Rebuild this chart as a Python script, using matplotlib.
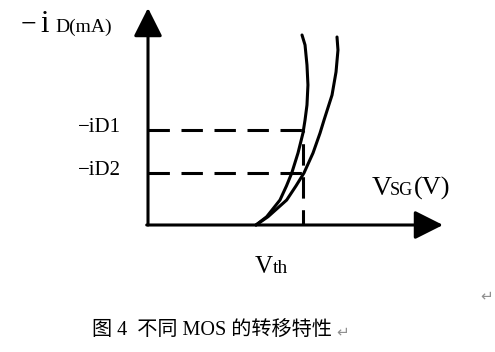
import matplotlib
matplotlib.use("Agg")
import matplotlib.pyplot as plt

plt.rcParams['font.family'] = ['Liberation Serif', 'Noto Sans CJK SC', 'DejaVu Sans']

# schematic transfer curves, -iD vs VSG (arbitrary units, Vth = 1)
vth = 1.0
id1 = 1.0
id2 = 0.55
v_probe = 1.435

vsg_a = [1.0, 1.099, 1.222, 1.282, 1.331, 1.389, 1.435, 1.454, 1.472, 1.481, 1.472, 1.454, 1.426]
id_a = [0.0, 0.087, 0.263, 0.411, 0.547, 0.758, 0.968, 1.105, 1.263, 1.474, 1.684, 1.895, 2.0]
vsg_b = [1.0, 1.111, 1.284, 1.370, 1.444, 1.528, 1.593, 1.630, 1.704, 1.741, 1.759, 1.750]
id_b = [0.0, 0.087, 0.263, 0.411, 0.547, 0.758, 0.968, 1.105, 1.368, 1.611, 1.842, 1.979]

W, H = 495, 352
SX, SY = 108, 95      # pixels per unit
OX, OY = 148, 225     # origin in pixels

fig = plt.figure(figsize=(W / 100, H / 100), dpi=100)
ax = fig.add_axes([0, 0, 1, 1])
ax.set_xlim(-OX / SX, (W - OX) / SX)
ax.set_ylim(-(H - OY) / SY, OY / SY)
ax.axis('off')

lw = 2.2
arrow = dict(arrowstyle='-|>,head_length=1.75,head_width=0.88', mutation_scale=10,
             lw=lw, color='black', shrinkA=0, shrinkB=0)
ax.annotate('', xy=(0, (OY - 8) / SY), xytext=(0, 0), arrowprops=arrow)
ax.annotate('', xy=((443 - OX) / SX, 0), xytext=(-0.012, 0), arrowprops=arrow)

ax.plot(vsg_a, id_a, color='black', lw=lw, solid_joinstyle='round', solid_capstyle='round')
ax.plot(vsg_b, id_b, color='black', lw=lw, solid_joinstyle='round', solid_capstyle='round')

dash = (0, (7.0, 3.8))
ax.plot([0, v_probe], [id1, id1], color='black', lw=lw, ls=dash)
ax.plot([0, v_probe], [id2, id2], color='black', lw=lw, ls=dash)
ax.plot([v_probe, v_probe], [0, id1], color='black', lw=lw, ls=(2, (7.0, 3.8)))

# tick-like labels
ax.text(-27 / SX, id1 + 2 / SY, '\u2212iD1', ha='right', va='center', fontsize=15)
ax.text(-27 / SX, id2 + 2 / SY, '\u2212iD2', ha='right', va='center', fontsize=15)
ax.text(vth - 1 / SX, -48 / SY, 'V', ha='left', va='baseline', fontsize=18)
ax.text(vth + 17 / SX, -48 / SY, 'th', ha='left', va='baseline', fontsize=14)


def ftext(x, y, s, **kw):
    fig.text(x / W, 1 - y / H, s, **kw)


# axis titles
ftext(21, 32, '\u2212', va='baseline', fontsize=20)
ftext(40, 32, 'i', va='baseline', fontsize=22)
ftext(55, 32, 'D(mA)', va='baseline', fontsize=14)
ftext(372, 195, 'V', va='baseline', fontsize=20)
ftext(390, 195, 'SG', va='baseline', fontsize=13)
ftext(414, 195, '(V)', va='baseline', fontsize=19)

# caption and paragraph marks
ftext(92, 331, '图 4  不同 MOS 的转移特性', va='center', fontsize=14.5)
ftext(336, 333, '\u21b5', va='center', fontsize=11, color='#909090')
ftext(480, 297, '\u21b5', va='center', fontsize=11, color='#909090')

fig.savefig('out.png', dpi=100)
